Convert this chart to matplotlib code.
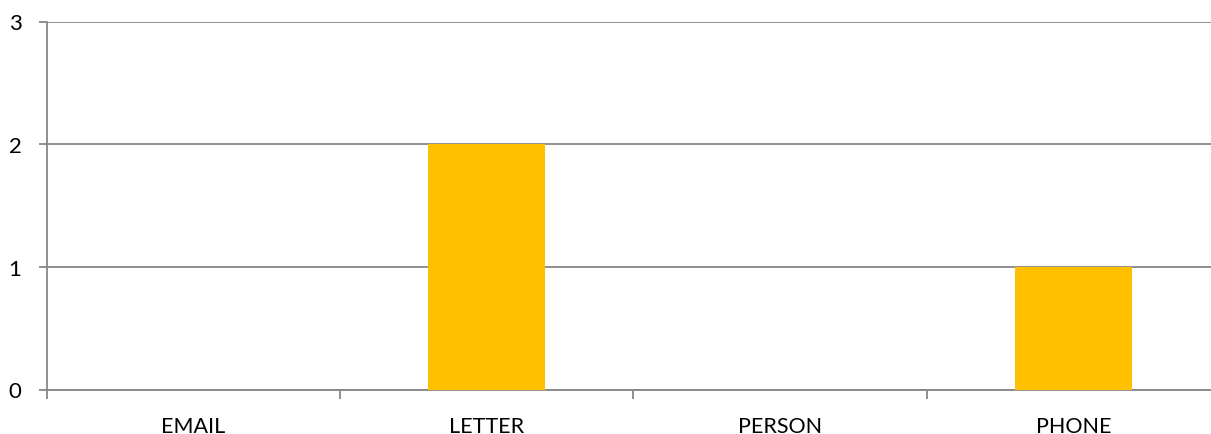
import matplotlib
matplotlib.use("Agg")
import matplotlib.pyplot as plt
import numpy as np

categories = ["EMAIL", "LETTER", "PERSON", "PHONE"]
counts = [0, 2, 0, 1]
yticks = [0, 1, 2, 3]

plt.rcParams['font.family'] = ['Lato', 'DejaVu Sans']

W, H = 1211, 435
fig = plt.figure(figsize=(W / 100, H / 100), dpi=100)
# plot area runs a little past the right edge of the picture
left, right, top, bottom = 46.5, 1220, 22.5, 390.5
ax = fig.add_axes([left / W, 1 - bottom / H, (right - left) / W, (bottom - top) / H])

x = np.arange(len(categories))
ax.bar(x, counts, width=0.4, color="#FFC000", zorder=3)

ax.set_xlim(-0.5, len(categories) - 0.5)
ax.set_ylim(0, 3)
ax.set_yticks(yticks)
ax.set_yticklabels([str(v) for v in yticks], fontsize=16)
ax.yaxis.grid(True, color="#878787", linewidth=1.3, zorder=0)

ax.set_xticks(x)
ax.set_xticklabels(categories, fontsize=15.5)
ax.set_xticks(np.arange(-0.5, len(categories)), minor=True)
ax.tick_params(axis="x", which="major", length=0, pad=19)
ax.tick_params(axis="x", which="minor", length=6.5, color="#878787", width=1.3)
ax.tick_params(axis="y", length=6, color="#878787", width=1.3, pad=12)

for s in ["top", "right"]:
    ax.spines[s].set_visible(False)
for s in ["left", "bottom"]:
    ax.spines[s].set_color("#878787")
    ax.spines[s].set_linewidth(1.3)

fig.savefig("out.png", dpi=100)
